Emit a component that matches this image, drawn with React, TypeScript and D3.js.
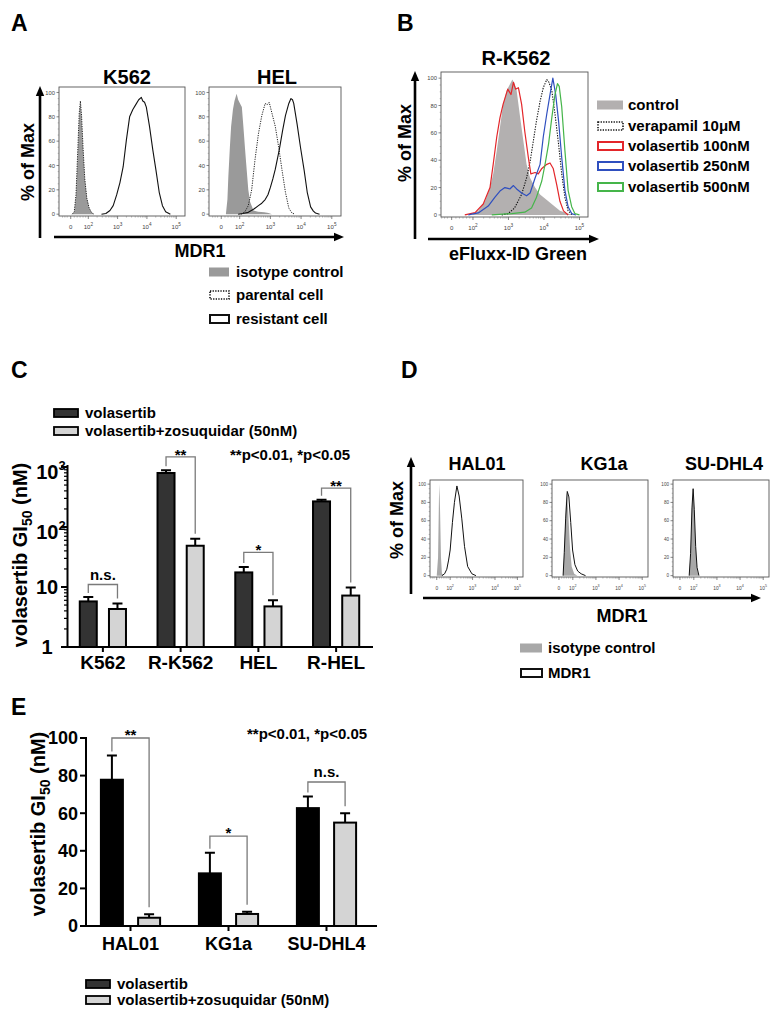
import React from 'react';
import * as d3 from 'd3';

type Pt = [number, number];
const FONT = '"Liberation Sans", Arial, Helvetica, sans-serif';

// ---------------- Panel A (MDR1 histograms, x in display decades, y in % of max) ----------------
const aK562Isotype: Pt[] = [[1.45,0],[1.52,2],[1.58,15],[1.64,50],[1.69,82],[1.73,93],[1.77,80],[1.82,55],[1.88,30],[1.95,14],[2.03,5],[2.12,1],[2.2,0]];
const aK562Parental: Pt[] = [[1.45,0],[1.52,2],[1.58,16],[1.64,52],[1.69,83],[1.73,93],[1.77,81],[1.82,55],[1.88,29],[1.95,13],[2.03,5],[2.12,1],[2.2,0]];
const aK562Resistant: Pt[] = [[2.45,0],[2.6,0.5],[2.74,3],[2.85,7],[2.97,16],[3.08,26],[3.19,39],[3.3,61],[3.41,80],[3.52,86],[3.62,90],[3.72,94],[3.81,96],[3.86,93],[3.92,92],[3.98,88],[4.09,72],[4.2,53],[4.31,36],[4.42,18],[4.53,7],[4.64,2],[4.8,0]];
const aHELIsotype: Pt[] = [[1.55,0],[1.6,12],[1.63,31],[1.68,55],[1.72,72],[1.78,86],[1.83,93],[1.9,99],[1.95,94],[2.01,91],[2.07,88],[2.12,72],[2.17,55],[2.21,42],[2.28,20],[2.34,10],[2.45,3],[2.6,2],[2.8,1.5],[2.94,1],[3.05,0]];
const aHELParental: Pt[] = [[2.05,0],[2.17,2],[2.28,7],[2.39,20],[2.5,45],[2.61,66],[2.72,81],[2.83,91],[2.9,90],[2.96,92],[3.05,83],[3.16,72],[3.27,55],[3.38,36],[3.49,18],[3.6,5],[3.7,1],[3.8,0]];
const aHELResistant: Pt[] = [[1.95,0],[2.1,0.5],[2.28,1.5],[2.45,4],[2.61,7],[2.72,9],[2.83,12],[2.92,16],[3.0,22],[3.08,29],[3.16,37],[3.29,53],[3.4,69],[3.49,81],[3.6,91],[3.67,95],[3.72,94],[3.76,91],[3.87,74],[3.98,55],[4.1,36],[4.2,18],[4.31,6],[4.4,2.5],[4.47,1],[4.6,0]];

// ---------------- Panel B (eFluxx-ID Green) ----------------
const bControl: Pt[] = [[1.96,0],[2.15,3],[2.34,10],[2.48,20],[2.57,30],[2.67,47],[2.76,64],[2.85,81],[2.95,91],[3.03,95],[3.11,99],[3.17,96],[3.23,91],[3.32,73],[3.42,54],[3.51,37],[3.61,27],[3.75,20],[3.89,15],[4.08,11],[4.26,7],[4.45,3],[4.68,1],[4.85,0]];
const bVerapamil: Pt[] = [[2.81,0],[2.99,1],[3.17,5],[3.37,15],[3.51,27],[3.61,39],[3.7,54],[3.79,69],[3.89,83],[3.98,93],[4.08,99],[4.14,97],[4.22,91],[4.31,74],[4.41,52],[4.5,30],[4.59,13],[4.68,3],[4.8,0]];
const bVola100: Pt[] = [[1.77,0],[2.06,1.7],[2.29,8],[2.48,20],[2.57,37],[2.67,57],[2.76,71],[2.85,81],[2.98,92],[3.07,88],[3.14,97],[3.2,92],[3.28,93],[3.37,81],[3.46,61],[3.56,42],[3.63,30],[3.75,31],[3.84,30],[3.94,34],[4.08,37],[4.17,38],[4.26,34],[4.36,22],[4.45,10],[4.55,3],[4.68,0]];
const bVola250: Pt[] = [[1.87,0],[2.15,1.5],[2.43,6.5],[2.62,13],[2.76,17.5],[2.9,20],[3.04,19],[3.14,21.5],[3.23,19],[3.37,16],[3.51,14],[3.61,16],[3.75,27],[3.89,37],[3.98,57],[4.08,74],[4.17,88],[4.25,100],[4.33,88],[4.41,69],[4.5,42],[4.59,18],[4.68,6],[4.78,1],[4.9,0]];
const bVola500: Pt[] = [[2.53,0],[3.09,1],[3.46,2],[3.65,5],[3.79,13],[3.94,25],[4.03,37],[4.13,52],[4.22,71],[4.31,88],[4.38,96],[4.43,94],[4.5,79],[4.59,47],[4.68,18],[4.78,6],[4.87,1],[5.0,0]];

// ---------------- Panel D (MDR1 in other lines) ----------------
const dHALIsotype: Pt[] = [[1.4,0],[1.46,20],[1.5,85],[1.52,100],[1.55,70],[1.59,20],[1.63,3],[1.68,0]];
const dHALMdr1: Pt[] = [[1.63,0],[1.75,2],[1.85,7],[1.93,17],[2.0,28],[2.1,58],[2.19,80],[2.3,98],[2.4,87],[2.52,62],[2.64,32],[2.78,10],[2.97,2],[3.15,0]];
const dKGIsotype: Pt[] = [[1.58,0],[1.64,30],[1.7,80],[1.74,91],[1.8,70],[1.88,30],[1.95,10],[2.06,2],[2.2,0]];
const dKGMdr1: Pt[] = [[1.58,0],[1.63,25],[1.69,62],[1.76,92],[1.83,86],[1.91,58],[1.99,28],[2.09,12],[2.21,5],[2.36,2],[2.55,0]];
const dSUIsotype: Pt[] = [[1.8,0],[1.86,25],[1.92,75],[1.97,94],[2.02,70],[2.08,30],[2.14,8],[2.2,0]];
const dSUMdr1: Pt[] = [[1.8,0],[1.86,24],[1.92,74],[1.97,95],[2.02,72],[2.08,32],[2.14,9],[2.22,0]];

// ---------------- Panel C (GI50 log scale) ----------------
const cGroups = ['K562', 'R-K562', 'HEL', 'R-HEL'];
const cVola = [5.75, 794, 17.5, 267];
const cVolaSd = [1.05, 86, 4, 18];
const cZosu = [4.3, 48.7, 4.75, 7.2];
const cZosuSd = [1.0, 15, 1.25, 2.6];
const cBracketLevel = [11, 1470, 37.7, 446];
const cSig = ['n.s.', '**', '*', '**'];
const cYTicks = [1, 10, 100, 1000];

// ---------------- Panel E (GI50 linear) ----------------
const eGroups = ['HAL01', 'KG1a', 'SU-DHL4'];
const eVola = [77.8, 28, 62.7];
const eVolaSd = [12.9, 11, 6.2];
const eZosu = [4.4, 6.4, 55];
const eZosuSd = [1.8, 1.2, 5];
const eBracketLevel = [100, 47.8, 76.6];
const eSig = ['**', '*', 'n.s.'];
const eYTicks = [0, 20, 40, 60, 80, 100];

const flowYTicks = [0, 20, 40, 60, 80, 100];
const flowXMajor: { v: number; base: string; sup?: string }[] = [
  { v: 1.4, base: '0' },
  { v: 2, base: '10', sup: '2' },
  { v: 3, base: '10', sup: '3' },
  { v: 4, base: '10', sup: '4' },
  { v: 5, base: '10', sup: '5' },
];
const flowLinearMinor = [1.12, 1.2, 1.28, 1.52, 1.62, 1.72, 1.82, 1.91];

interface Curve { data: Pt[]; fill?: string; stroke?: string; dash?: string; width?: number; }

function Flow(props: {
  id: string; x0: number; x1: number; y0: number; y1: number; domain: [number, number];
  curves: Curve[]; title?: string; titleX?: number; titleY?: number; titleSize?: number; tickFont: number;
}) {
  const { id, x0, x1, y0, y1, domain, curves, tickFont } = props;
  const x = d3.scaleLinear().domain(domain).range([x0, x1]);
  const y = d3.scaleLinear().domain([-1.5, 104.5]).range([y1, y0]);
  const area = d3.area<Pt>().x(d => x(d[0])).y0(y(0)).y1(d => y(d[1]));
  const line = d3.line<Pt>().x(d => x(d[0])).y(d => y(d[1]));
  const minorX: number[] = [...flowLinearMinor];
  for (let dec = 2; dec <= 4; dec++) for (let k = 2; k <= 9; k++) minorX.push(dec + Math.log10(k));
  minorX.push(5 + Math.log10(2));
  const minorY: number[] = [];
  for (let v = 0; v <= 100; v += 5) if (v % 20 !== 0) minorY.push(v);
  return (
    <g>
      <defs>
        <clipPath id={id}><rect x={x0} y={y0} width={x1 - x0} height={y1 - y0} /></clipPath>
      </defs>
      {props.title && (
        <text x={props.titleX} y={props.titleY} textAnchor="middle" fontSize={props.titleSize} fontWeight="bold">{props.title}</text>
      )}
      <g clipPath={`url(#${id})`}>
        {curves.filter(c => c.fill).map((c, i) => (
          <path key={'a' + i} d={area(c.data) || ''} fill={c.fill} stroke="none" />
        ))}
        {curves.filter(c => c.stroke).map((c, i) => (
          <path key={'l' + i} d={line(c.data) || ''} fill="none" stroke={c.stroke} strokeWidth={c.width ?? 1.1}
            strokeDasharray={c.dash} strokeLinejoin="round" />
        ))}
      </g>
      <rect x={x0} y={y0} width={x1 - x0} height={y1 - y0} fill="none" stroke="#555" strokeWidth={0.9} />
      {flowYTicks.map(t => (
        <g key={'yt' + t}>
          <line x1={x0 - 2.5} x2={x0} y1={y(t)} y2={y(t)} stroke="#555" strokeWidth={0.7} />
          <text x={x0 - 4} y={y(t) + tickFont * 0.35} textAnchor="end" fontSize={tickFont} fill="#444">{t}</text>
        </g>
      ))}
      {minorY.map(t => (
        <line key={'ym' + t} x1={x0 - 1.3} x2={x0} y1={y(t)} y2={y(t)} stroke="#777" strokeWidth={0.5} />
      ))}
      {flowXMajor.map(t => (
        <g key={'xt' + t.v}>
          <line x1={x(t.v)} x2={x(t.v)} y1={y1} y2={y1 + 3} stroke="#555" strokeWidth={0.7} />
          <text x={x(t.v)} y={y1 + 10 + tickFont * 0.6} textAnchor="middle" fontSize={tickFont * 1.05} fill="#444">
            {t.base}
            {t.sup && <tspan dy={-tickFont * 0.55} fontSize={tickFont * 0.8}>{t.sup}</tspan>}
          </text>
        </g>
      ))}
      {minorX.filter(v => v > domain[0] && v < domain[1]).map((v, i) => (
        <line key={'xm' + i} x1={x(v)} x2={x(v)} y1={y1} y2={y1 + 1.6} stroke="#777" strokeWidth={0.5} />
      ))}
    </g>
  );
}

function Arrow({ x1, y1, x2, y2 }: { x1: number; y1: number; x2: number; y2: number }) {
  const ang = Math.atan2(y2 - y1, x2 - x1);
  const L = 10, W = 4.2;
  const bx = x2 - L * Math.cos(ang), by = y2 - L * Math.sin(ang);
  const px = -Math.sin(ang) * W, py = Math.cos(ang) * W;
  return (
    <g>
      <line x1={x1} y1={y1} x2={bx} y2={by} stroke="#000" strokeWidth={2.6} />
      <polygon points={`${x2},${y2} ${bx + px},${by + py} ${bx - px},${by - py}`} fill="#000" />
    </g>
  );
}

function Swatch({ x, y, w, h, fill, stroke, dash, sw }: { x: number; y: number; w: number; h: number; fill?: string; stroke?: string; dash?: string; sw?: number }) {
  return <rect x={x} y={y - h / 2} width={w} height={h} fill={fill ?? 'none'} stroke={stroke ?? 'none'} strokeWidth={sw ?? 2} strokeDasharray={dash} />;
}

function LegendText({ x, y, children }: { x: number; y: number; children: React.ReactNode }) {
  return <text x={x} y={y + 5.4} fontSize={15} fontWeight="bold">{children}</text>;
}

function VLabel({ x, y, size, children }: { x: number; y: number; size: number; children: React.ReactNode }) {
  return (
    <text transform={`translate(${x + size * 0.36},${y}) rotate(-90)`} textAnchor="middle" fontSize={size} fontWeight="bold">{children}</text>
  );
}

function Bracket({ xl, xr, yl, level, yr, label, starsBelow }: { xl: number; xr: number; yl: number; level: number; yr: number; label: string; starsBelow: number }) {
  const isNs = label === 'n.s.';
  return (
    <g>
      <path d={`M${xl},${yl} V${level} H${xr} V${yr}`} fill="none" stroke="#7a7a7a" strokeWidth={1.3} />
      <text x={(xl + xr) / 2} y={isNs ? level - 5 : level + starsBelow} textAnchor="middle" fontSize={15} fontWeight="bold">{label}</text>
    </g>
  );
}

function GI50Label({ x, y }: { x: number; y: number }) {
  return (
    <VLabel x={x} y={y} size={20}>
      volasertib GI<tspan dy={5} fontSize={14}>50</tspan><tspan dy={-5}> (nM)</tspan>
    </VLabel>
  );
}

export default function App() {
  // Panel C scales
  const cX = d3.scaleBand<string>().domain(cGroups).range([64, 375]);
  const cY = d3.scaleLog().domain([1, 1000]).range([647, 467]);
  const cOff = 14.6, cBarW = 17;
  const cMinor: number[] = [];
  for (let dec = 0; dec < 3; dec++) for (let k = 2; k <= 9; k++) cMinor.push(k * Math.pow(10, dec));

  // Panel E scales
  const eX = d3.scaleBand<string>().domain(eGroups).range([81.5, 375.5]);
  const eY = d3.scaleLinear().domain([0, 100]).range([926, 738]);
  const eOff = 18.6, eBarW = 22;

  const grey = '#9a9a9a';
  const red = '#e3262a', blue = '#2f4fbf', green = '#45b54a';

  return (
    <svg width={780} height={1020} style={{ position: 'absolute', left: 0, top: 0, background: '#fff' }} fontFamily={FONT}>
      <rect x={0} y={0} width={780} height={1020} fill="#fff" />

      {/* ===== Panel A ===== */}
      <text x={11} y={31} fontSize={23} fontWeight="bold">A</text>
      <Flow id="clipK562" x0={59} x1={185} y0={87} y1={216} domain={[1.0, 5.3]} tickFont={5.8}
        title="K562" titleX={127} titleY={84} titleSize={20}
        curves={[
          { data: aK562Isotype, fill: grey },
          { data: aK562Parental, stroke: '#222', dash: '1.2,1.2', width: 1 },
          { data: aK562Resistant, stroke: '#111', width: 1.1 },
        ]} />
      <Flow id="clipHEL" x0={209} x1={341} y0={87} y1={216} domain={[1.0, 5.3]} tickFont={5.8}
        title="HEL" titleX={277} titleY={84} titleSize={20}
        curves={[
          { data: aHELIsotype, fill: grey },
          { data: aHELParental, stroke: '#222', dash: '1.2,1.2', width: 1 },
          { data: aHELResistant, stroke: '#111', width: 1.1 },
        ]} />
      <Arrow x1={40} y1={238} x2={40} y2={86} />
      <Arrow x1={54} y1={237} x2={344} y2={237} />
      <VLabel x={28} y={162} size={18}>% of Max</VLabel>
      <text x={200} y={256.5} textAnchor="middle" fontSize={18} fontWeight="bold">MDR1</text>
      <Swatch x={209} y={272} w={20} h={9} fill={grey} />
      <LegendText x={236} y={272}>isotype control</LegendText>
      <Swatch x={210} y={295} w={19} h={8} stroke="#111" dash="1.3,1.3" sw={1.6} />
      <LegendText x={236} y={295}>parental cell</LegendText>
      <Swatch x={210} y={319} w={19} h={8} stroke="#111" sw={2} />
      <LegendText x={236} y={319}>resistant cell</LegendText>

      {/* ===== Panel B ===== */}
      <text x={397} y={31} fontSize={23} fontWeight="bold">B</text>
      <Flow id="clipRK562" x0={441} x1={588} y0={72} y1={217} domain={[1.1, 5.24]} tickFont={5.8}
        title="R-K562" titleX={516} titleY={65} titleSize={20}
        curves={[
          { data: bControl, fill: '#b3b0b0' },
          { data: bVerapamil, stroke: '#111', dash: '1.3,1.3', width: 1.1 },
          { data: bVola100, stroke: red, width: 1.2 },
          { data: bVola250, stroke: blue, width: 1.2 },
          { data: bVola500, stroke: green, width: 1.2 },
        ]} />
      <Arrow x1={415} y1={239} x2={415} y2={71} />
      <Arrow x1={428} y1={239} x2={599} y2={239} />
      <VLabel x={405} y={143} size={18}>% of Max</VLabel>
      <text x={518} y={259.5} textAnchor="middle" fontSize={18} fontWeight="bold">eFluxx-ID Green</text>
      <Swatch x={597} y={105} w={26} h={9} fill="#b3b0b0" />
      <LegendText x={628} y={105}>control</LegendText>
      <Swatch x={598} y={126} w={25} h={8} stroke="#111" dash="1.3,1.3" sw={1.6} />
      <LegendText x={628} y={126}>verapamil 10μM</LegendText>
      <Swatch x={598} y={146} w={25} h={8} stroke={red} sw={2} />
      <LegendText x={628} y={146}>volasertib 100nM</LegendText>
      <Swatch x={598} y={166} w={25} h={8} stroke={blue} sw={2} />
      <LegendText x={628} y={166}>volasertib 250nM</LegendText>
      <Swatch x={598} y={187} w={25} h={8} stroke={green} sw={2} />
      <LegendText x={628} y={187}>volasertib 500nM</LegendText>

      {/* ===== Panel C ===== */}
      <text x={11} y={378} fontSize={23} fontWeight="bold">C</text>
      <Swatch x={54} y={413} w={24} h={8} fill="#333" stroke="#000" sw={1.8} />
      <LegendText x={85} y={413}>volasertib</LegendText>
      <Swatch x={54} y={431} w={24} h={8} fill="#d4d4d4" stroke="#000" sw={1.8} />
      <LegendText x={85} y={431}>volasertib+zosuquidar (50nM)</LegendText>
      <text x={230} y={460} fontSize={15} fontWeight="bold">**p&lt;0.01, *p&lt;0.05</text>
      <GI50Label x={20} y={555} />
      {cGroups.map((g, i) => {
        const xc = (cX(g) ?? 0) + cX.bandwidth() / 2;
        const xd = xc - cOff, xl = xc + cOff;
        const dTop = cVola[i] + cVolaSd[i], lTop = cZosu[i] + cZosuSd[i];
        return (
          <g key={g}>
            <rect x={xd - cBarW / 2} y={cY(cVola[i])} width={cBarW} height={cY(1) - cY(cVola[i])} fill="#333" stroke="#000" strokeWidth={2} />
            <rect x={xl - cBarW / 2} y={cY(cZosu[i])} width={cBarW} height={cY(1) - cY(cZosu[i])} fill="#d4d4d4" stroke="#000" strokeWidth={2} />
            <path d={`M${xd},${cY(cVola[i])} V${cY(dTop)} M${xd - 5},${cY(dTop)} H${xd + 5}`} stroke="#000" strokeWidth={2} fill="none" />
            <path d={`M${xl},${cY(cZosu[i])} V${cY(lTop)} M${xl - 5},${cY(lTop)} H${xl + 5}`} stroke="#000" strokeWidth={2} fill="none" />
            <Bracket xl={xd} xr={xl} yl={cY(dTop) - 4} yr={cY(lTop) - 5} level={cY(cBracketLevel[i])} label={cSig[i]} starsBelow={3} />
            <line x1={xc} x2={xc} y1={647} y2={652} stroke="#000" strokeWidth={2} />
            <text x={xc} y={668.5} textAnchor="middle" fontSize={19} fontWeight="bold">{g}</text>
          </g>
        );
      })}
      <line x1={67.5} x2={67.5} y1={465} y2={648} stroke="#000" strokeWidth={2} />
      <line x1={66.5} x2={373} y1={647} y2={647} stroke="#000" strokeWidth={2} />
      {cYTicks.map((t, i) => (
        <g key={'cy' + t}>
          <line x1={61} x2={67.5} y1={cY(t)} y2={cY(t)} stroke="#000" strokeWidth={2} />
          {i < 2 ? (
            <text x={47} y={cY(t) + 7.2} textAnchor="middle" fontSize={20} fontWeight="bold">{String(t)}</text>
          ) : (
            <text x={51} y={cY(t) + 12} textAnchor="middle" fontSize={20} fontWeight="bold">
              10<tspan dy={-9} fontSize={13}>{String(i)}</tspan>
            </text>
          )}
        </g>
      ))}
      {cMinor.map(t => (
        <line key={'cm' + t} x1={64} x2={67.5} y1={cY(t)} y2={cY(t)} stroke="#000" strokeWidth={1.2} />
      ))}

      {/* ===== Panel D ===== */}
      <text x={401} y={378} fontSize={23} fontWeight="bold">D</text>
      <Flow id="clipHAL" x0={430} x1={523} y0={480} y1={577} domain={[1.1, 5.25]} tickFont={4.6}
        title="HAL01" titleX={477} titleY={469.5} titleSize={18}
        curves={[
          { data: dHALIsotype, fill: '#a8a8a8' },
          { data: dHALMdr1, stroke: '#111', width: 1 },
        ]} />
      <Flow id="clipKG" x0={552} x1={648} y0={480} y1={577} domain={[1.1, 5.25]} tickFont={4.6}
        title="KG1a" titleX={604} titleY={469.5} titleSize={18}
        curves={[
          { data: dKGIsotype, fill: '#a8a8a8' },
          { data: dKGMdr1, stroke: '#111', width: 1 },
        ]} />
      <Flow id="clipSU" x0={673} x1={769} y0={480} y1={577} domain={[1.1, 5.25]} tickFont={4.6}
        title="SU-DHL4" titleX={724} titleY={469.5} titleSize={18}
        curves={[
          { data: dSUIsotype, fill: '#a8a8a8' },
          { data: dSUMdr1, stroke: '#111', width: 1 },
        ]} />
      <Arrow x1={411} y1={594} x2={411} y2={457} />
      <Arrow x1={423} y1={598} x2={761} y2={598} />
      <VLabel x={397} y={520} size={18}>% of Max</VLabel>
      <text x={622} y={621.5} textAnchor="middle" fontSize={18} fontWeight="bold">MDR1</text>
      <Swatch x={520} y={648} w={22} h={9} fill="#a8a8a8" />
      <LegendText x={548} y={648}>isotype control</LegendText>
      <Swatch x={521} y={673} w={21} h={8} stroke="#111" sw={2} />
      <LegendText x={548} y={673}>MDR1</LegendText>

      {/* ===== Panel E ===== */}
      <text x={11} y={715} fontSize={23} fontWeight="bold">E</text>
      <text x={247} y={738.5} fontSize={15} fontWeight="bold">**p&lt;0.01, *p&lt;0.05</text>
      <GI50Label x={38} y={824} />
      {eGroups.map((g, i) => {
        const xc = (eX(g) ?? 0) + eX.bandwidth() / 2;
        const xd = xc - eOff, xl = xc + eOff;
        const dTop = eVola[i] + eVolaSd[i], lTop = eZosu[i] + eZosuSd[i];
        return (
          <g key={g}>
            <rect x={xd - eBarW / 2} y={eY(eVola[i])} width={eBarW} height={eY(0) - eY(eVola[i])} fill="#000" stroke="#000" strokeWidth={2} />
            <rect x={xl - eBarW / 2} y={eY(eZosu[i])} width={eBarW} height={eY(0) - eY(eZosu[i])} fill="#d4d4d4" stroke="#000" strokeWidth={2} />
            <path d={`M${xd},${eY(eVola[i])} V${eY(dTop)} M${xd - 5},${eY(dTop)} H${xd + 5}`} stroke="#000" strokeWidth={2} fill="none" />
            <path d={`M${xl},${eY(eZosu[i])} V${eY(lTop)} M${xl - 5},${eY(lTop)} H${xl + 5}`} stroke="#000" strokeWidth={2} fill="none" />
            <Bracket xl={xd} xr={xl} yl={eY(dTop) - 4} yr={eY(lTop) - 7} level={eY(eBracketLevel[i])} label={eSig[i]} starsBelow={2} />
            <line x1={xc} x2={xc} y1={926} y2={931} stroke="#000" strokeWidth={2} />
            <text x={xc} y={949.5} textAnchor="middle" fontSize={18} fontWeight="bold">{g}</text>
          </g>
        );
      })}
      <line x1={86} x2={86} y1={737} y2={927} stroke="#000" strokeWidth={2} />
      <line x1={85} x2={377} y1={926} y2={926} stroke="#000" strokeWidth={2} />
      {eYTicks.map(t => (
        <g key={'ey' + t}>
          <line x1={80} x2={86} y1={eY(t)} y2={eY(t)} stroke="#000" strokeWidth={2} />
          <text x={78} y={eY(t) + 6.3} textAnchor="end" fontSize={18} fontWeight="bold">{String(t)}</text>
        </g>
      ))}
      <Swatch x={86} y={984} w={24} h={8} fill="#333" stroke="#000" sw={1.8} />
      <LegendText x={117} y={984}>volasertib</LegendText>
      <Swatch x={86} y={1000} w={24} h={8} fill="#d4d4d4" stroke="#000" sw={1.8} />
      <LegendText x={117} y={1000}>volasertib+zosuquidar (50nM)</LegendText>
    </svg>
  );
}
